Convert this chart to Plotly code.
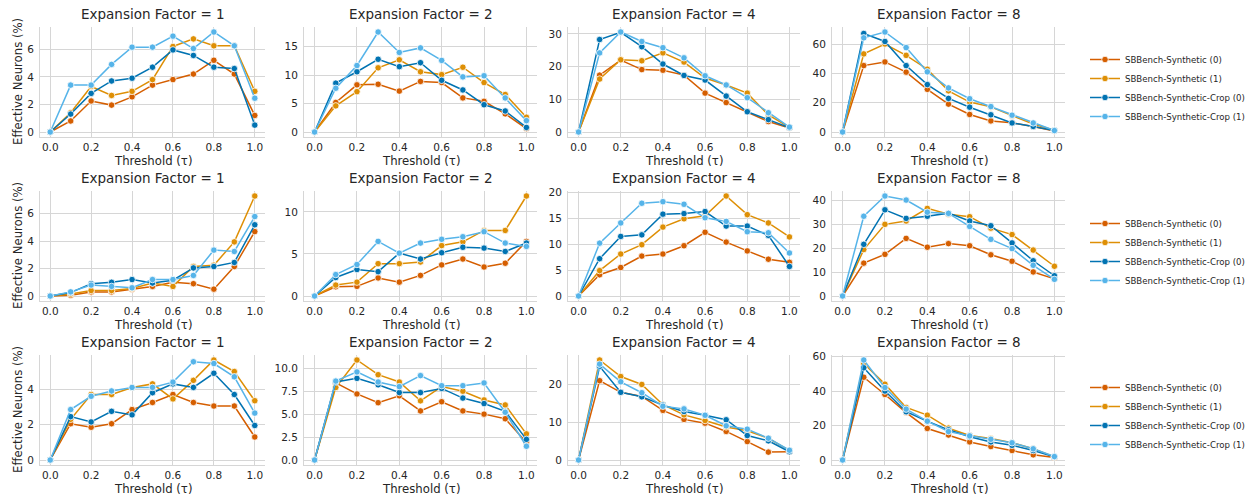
import plotly.graph_objects as go

# ---------------- data ----------------
thresholds = [0.0, 0.1, 0.2, 0.3, 0.4, 0.5, 0.6, 0.7, 0.8, 0.9, 1.0]
series_names = ["SBBench-Synthetic (0)", "SBBench-Synthetic (1)",
                "SBBench-Synthetic-Crop (0)", "SBBench-Synthetic-Crop (1)"]
expansion_factors = [1, 2, 4, 8]
x_ticks = [0.0, 0.2, 0.4, 0.6, 0.8, 1.0]
x_tick_labels = ["0.0", "0.2", "0.4", "0.6", "0.8", "1.0"]

# Row 1
r1_ef1 = [
    [0, 0.8, 2.25, 1.95, 2.55, 3.4, 3.8, 4.2, 5.2, 4.2, 1.2],
    [0, 1.4, 3.3, 2.65, 2.95, 3.8, 6.2, 6.75, 6.25, 6.25, 2.95],
    [0, 1.3, 2.8, 3.7, 3.9, 4.7, 5.95, 5.55, 4.7, 4.6, 0.5],
    [0, 3.4, 3.4, 4.9, 6.15, 6.15, 6.95, 6.05, 7.25, 6.25, 2.45],
]
r1_ef2 = [
    [0, 5.2, 8.3, 8.4, 7.2, 8.9, 8.7, 6.0, 5.4, 3.2, 0.6],
    [0, 4.6, 7.1, 11.3, 12.7, 10.6, 10.1, 11.4, 8.7, 6.6, 2.6],
    [0, 8.6, 10.6, 12.8, 11.5, 12.2, 9.1, 7.4, 4.8, 3.7, 0.8],
    [0, 7.7, 11.7, 17.6, 14.0, 14.8, 12.6, 9.7, 9.9, 6.0, 2.0],
]
r1_ef4 = [
    [0, 17.4, 22.0, 19.1, 18.9, 17.4, 11.9, 9.0, 6.3, 3.2, 1.2],
    [0, 16.2, 22.1, 21.8, 24.2, 21.4, 16.5, 14.4, 11.9, 5.2, 1.4],
    [0, 28.3, 30.5, 26.1, 20.8, 17.3, 15.9, 11.0, 6.2, 3.8, 1.3],
    [0, 24.2, 30.6, 27.7, 25.8, 22.7, 17.2, 14.4, 10.5, 5.9, 1.5],
]
r1_ef8 = [
    [0, 45.5, 48.0, 41.0, 29.2, 19.1, 12.0, 7.6, 6.3, 3.8, 0.7],
    [0, 53.5, 60.3, 52.5, 43.0, 28.2, 20.5, 17.2, 11.2, 5.5, 1.2],
    [0, 67.5, 62.0, 45.5, 32.5, 23.0, 17.0, 11.8, 6.2, 3.8, 1.0],
    [0, 64.5, 68.5, 57.8, 41.2, 30.2, 22.8, 17.4, 11.5, 6.2, 1.0],
]
# Row 2
r2_ef1 = [
    [0, 0.05, 0.3, 0.3, 0.5, 0.7, 1.0, 0.9, 0.5, 2.15, 4.7],
    [0, 0.15, 0.4, 0.4, 0.55, 0.95, 0.7, 2.15, 2.25, 3.95, 7.3],
    [0, 0.25, 0.9, 1.0, 1.2, 0.95, 1.15, 2.05, 2.15, 2.45, 5.2],
    [0, 0.3, 0.8, 0.7, 0.6, 1.2, 1.2, 1.5, 3.35, 3.25, 5.8],
]
r2_ef2 = [
    [0, 1.1, 1.15, 2.15, 1.65, 2.45, 3.7, 4.4, 3.45, 3.9, 6.5],
    [0, 1.3, 1.65, 3.85, 3.85, 4.05, 6.0, 6.45, 7.8, 7.8, 11.9],
    [0, 2.2, 3.15, 2.9, 5.1, 4.4, 5.15, 5.8, 5.7, 5.3, 6.3],
    [0, 2.55, 3.75, 6.5, 5.1, 6.3, 6.75, 7.05, 7.65, 6.3, 5.9],
]
r2_ef4 = [
    [0, 4.1, 5.5, 7.7, 8.1, 9.7, 12.3, 10.4, 8.7, 7.1, 6.5],
    [0, 4.9, 8.1, 9.9, 13.3, 14.9, 15.5, 19.3, 15.7, 14.1, 11.4],
    [0, 7.2, 11.5, 11.8, 15.8, 15.9, 16.3, 13.5, 13.5, 11.7, 5.7],
    [0, 10.2, 14.1, 17.9, 18.2, 17.7, 15.1, 14.4, 12.4, 12.2, 8.3],
]
r2_ef8 = [
    [0, 13.8, 17.5, 24.2, 20.5, 22.0, 21.1, 17.3, 14.6, 10.1, 7.2],
    [0, 19.5, 30.1, 31.5, 36.8, 34.3, 33.3, 28.5, 25.8, 19.3, 12.5],
    [0, 21.7, 36.2, 32.6, 33.5, 34.8, 31.5, 29.5, 22.3, 14.8, 8.5],
    [0, 33.5, 42.0, 40.3, 35.2, 34.7, 29.2, 23.8, 19.9, 12.9, 7.0],
]
# Row 3
r3_ef1 = [
    [0, 2.05, 1.85, 2.05, 2.85, 3.25, 3.7, 3.25, 3.05, 3.05, 1.3],
    [0, 2.3, 3.7, 3.7, 4.1, 4.3, 3.45, 4.5, 5.65, 5.0, 3.35],
    [0, 2.45, 2.15, 2.75, 2.55, 3.8, 4.3, 4.1, 4.9, 3.7, 1.95],
    [0, 2.85, 3.6, 3.9, 4.1, 4.1, 4.4, 5.55, 5.45, 4.7, 2.65],
]
r3_ef2 = [
    [0, 8.4, 7.2, 6.25, 7.0, 5.35, 6.35, 5.35, 5.0, 4.5, 1.9],
    [0, 7.9, 10.9, 9.3, 8.5, 6.45, 8.0, 7.5, 6.55, 6.0, 2.85],
    [0, 8.5, 8.9, 8.2, 7.35, 7.35, 7.8, 6.75, 6.15, 5.3, 2.25],
    [0, 8.6, 9.6, 8.5, 8.0, 9.2, 8.1, 8.1, 8.4, 5.2, 1.5],
]
r3_ef4 = [
    [0, 21.1, 18.0, 16.9, 13.2, 10.8, 9.8, 7.6, 4.9, 2.1, 2.2],
    [0, 26.6, 22.2, 20.1, 14.7, 12.0, 10.5, 8.8, 7.8, 5.8, 2.5],
    [0, 24.9, 18.0, 16.8, 14.6, 12.9, 11.9, 10.7, 6.5, 5.1, 2.2],
    [0, 25.5, 20.8, 17.9, 14.3, 13.6, 11.9, 9.1, 8.2, 5.8, 2.6],
]
r3_ef8 = [
    [0, 48.0, 38.0, 27.5, 18.3, 14.5, 10.5, 7.8, 5.5, 3.0, 1.5],
    [0, 56.0, 44.0, 30.5, 26.0, 18.5, 14.2, 12.5, 10.0, 6.5, 1.8],
    [0, 53.5, 40.0, 28.0, 22.5, 17.5, 13.5, 10.5, 8.5, 5.5, 1.8],
    [0, 58.0, 42.0, 29.5, 22.5, 16.5, 14.0, 12.0, 10.0, 6.5, 2.0],
]

y_dticks = [
    [2, 5, 10, 20],
    [2, 5, 5, 10],
    [2, 2.5, 10, 20],
]

panels = [
    [r1_ef1, r1_ef2, r1_ef4, r1_ef8],
    [r2_ef1, r2_ef2, r2_ef4, r2_ef8],
    [r3_ef1, r3_ef2, r3_ef4, r3_ef8],
]

# ---------------- style ----------------
colors = ["#D55E00", "#DE8F05", "#0173B2", "#56B4E9"]
W, H = 1246, 496
FONT = "DejaVu Sans"
TXT = "#262626"
GRID = "#d6d6d6"

col_px = [(40, 265), (304, 537), (568, 800), (832, 1065)]
row_px = [(27, 137), (191, 301), (355, 465)]


def px_x(v):
    return v / W


def px_y(v):
    return 1 - v / H


fig = go.Figure()
layout = dict(
    width=W, height=H,
    margin=dict(l=0, r=0, t=0, b=0, autoexpand=False),
    paper_bgcolor="white", plot_bgcolor="white",
    font=dict(family=FONT, color=TXT, size=10.5),
    annotations=[],
)

for r in range(3):
    for c in range(4):
        idx = r * 4 + c + 1
        xa = "x" if idx == 1 else f"x{idx}"
        ya = "y" if idx == 1 else f"y{idx}"
        data = panels[r][c]
        for s in range(4):
            fig.add_trace(go.Scatter(
                x=thresholds, y=data[s], mode="lines+markers",
                name=series_names[s],
                line=dict(color=colors[s], width=1.5),
                marker=dict(color=colors[s], size=6.5,
                            line=dict(color="white", width=0.8)),
                xaxis=xa, yaxis=ya,
                showlegend=(c == 0),
                legend="legend" if r == 0 else f"legend{r + 1}",
            ))
        allv = [v for ser in data for v in ser]
        lo, hi = min(allv), max(allv)
        pad = 0.05 * (hi - lo)
        x0, x1 = col_px[c]
        y0, y1 = row_px[r]
        layout["xaxis" if idx == 1 else f"xaxis{idx}"] = dict(
            domain=[px_x(x0), px_x(x1)], anchor=ya,
            range=[-0.05, 1.05], tickvals=x_ticks, ticktext=x_tick_labels,
            showgrid=True, gridcolor=GRID, gridwidth=1,
            showline=True, linecolor=GRID, linewidth=1,
            zeroline=False, ticks="", tickfont=dict(size=10.5, color=TXT),
        )
        yfmt = ".1f" if (r == 2 and c == 1) else ""
        layout["yaxis" if idx == 1 else f"yaxis{idx}"] = dict(
            domain=[px_y(y1), px_y(y0)], anchor=xa,
            range=[lo - pad, hi + pad], dtick=y_dticks[r][c], tick0=0,
            tickformat=yfmt,
            showgrid=True, gridcolor=GRID, gridwidth=1,
            showline=True, linecolor=GRID, linewidth=1,
            zeroline=False, ticks="", tickfont=dict(size=10.5, color=TXT),
            ticklabelstandoff=3,
        )
        # subplot title
        layout["annotations"].append(dict(
            text=f"Expansion Factor = {expansion_factors[c]}",
            x=px_x((x0 + x1) / 2), y=px_y(y0 - 3), xref="paper", yref="paper",
            xanchor="center", yanchor="bottom", showarrow=False,
            font=dict(size=13.5, color=TXT, family=FONT),
        ))
        # x label
        layout["annotations"].append(dict(
            text="Threshold (τ)",
            x=px_x((x0 + x1) / 2), y=px_y(y1 + 15), xref="paper", yref="paper",
            xanchor="center", yanchor="top", showarrow=False,
            font=dict(size=11.7, color=TXT, family=FONT),
        ))
    # y label
    y0, y1 = row_px[r]
    layout["annotations"].append(dict(
        text="Effective Neurons (%)", textangle=-90,
        x=px_x(18), y=px_y((y0 + y1) / 2), xref="paper", yref="paper",
        xanchor="center", yanchor="middle", showarrow=False,
        font=dict(size=11.7, color=TXT, family=FONT),
    ))
    leg = dict(
        x=1.0 + 4 / W, y=px_y((y0 + y1) / 2 + 6), xanchor="right", yanchor="middle",
        xref="paper", yref="paper",
        bgcolor="rgba(0,0,0,0)", borderwidth=0,
        font=dict(size=8.6, color=TXT, family=FONT),
        traceorder="normal", tracegroupgap=0,
    )
    layout["legend" if r == 0 else f"legend{r + 1}"] = leg

fig.update_layout(**layout)
fig.write_html("out.html")
